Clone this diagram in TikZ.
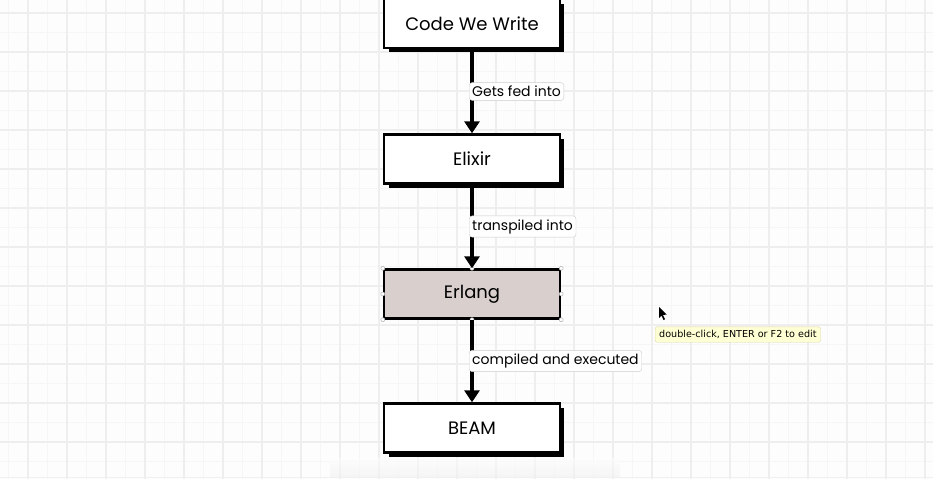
\documentclass[tikz,border=0pt]{standalone}
\usepackage{fontspec}
\setmainfont{Poppins}
\newfontfamily\tipfont{DejaVu Sans}
\usetikzlibrary{arrows.meta}
\definecolor{bg}{HTML}{FDFDFD}
\definecolor{gmaj}{HTML}{EEEEEE}
\definecolor{gmin}{HTML}{F6F6F6}
\definecolor{erl}{HTML}{D9CFCD}
\definecolor{tipfill}{HTML}{FFFFD4}
\definecolor{tipline}{HTML}{D8D8A8}
\tikzset{
  stepbox/.style={draw=black, line width=2.4pt, fill=white, minimum width=176pt, minimum height=49pt, inner sep=0pt, font=\fontsize{18}{21}\selectfont},
  flow/.style={line width=3.6pt, -{Triangle[length=12pt,width=15pt]}},
  lbl/.style={draw=gray!40, fill=white, rounded corners=3pt, inner xsep=3pt, inner ysep=3.5pt, font=\fontsize{14}{16}\selectfont, anchor=west},
  handle/.style={circle, draw=gray!60, fill=white, inner sep=0pt, minimum size=4pt, line width=0.5pt}
}
\begin{document}
\begin{tikzpicture}[x=1pt,y=-1pt]
\fill[bg] (0,0) rectangle (933,479);
\useasboundingbox (0,0) rectangle (933,479);
% grid
\foreach \i in {0,...,48} {
  \draw[gmin, line width=0.8pt] ({8.5+19.5*\i},0) -- ({8.5+19.5*\i},479);
}
\foreach \j in {0,...,25} {
  \draw[gmin, line width=0.8pt] (0,{-6.5+19.5*\j}) -- (933,{-6.5+19.5*\j});
}
\foreach \i in {0,...,24} {
  \draw[gmaj, line width=1.1pt] ({28+39*\i},0) -- ({28+39*\i},479);
}
\foreach \j in {0,...,12} {
  \draw[gmaj, line width=1.1pt] (0,{13+39*\j}) -- (933,{13+39*\j});
}
\shade[top color=bg, bottom color=gray!12, opacity=0.6] (330,458) rectangle (620,477);
\draw[gray!12, line width=1pt] (0,477.5) -- (933,477.5);
% shadows
\fill[black] (389,4) rectangle (564,52);
\fill[black] (389,139) rectangle (564,188);
\fill[black] (389,408) rectangle (564,457);
% boxes
\node[stepbox] (code) at (472,23.5) {Code We Write};
\node[stepbox] (elixir) at (472,159) {Elixir};
\node[stepbox, fill=erl] (erlang) at (472,294) {Erlang};
\node[stepbox] (beam) at (472,428) {BEAM};
% handles
\foreach \a in {north west,north,north east,east,south east,south,south west,west}{
  \node[handle] at (erlang.\a) {};
}
% connectors
\draw[flow] (code.south) -- (elixir.north);
\draw[flow] (elixir.south) -- (erlang.north);
\draw[flow] (erlang.south) -- (beam.north);
% labels
\node[lbl] (l1) at (469,91.5) {Gets fed into};
\node[lbl] (l2) at (469,226.5) {transpiled into};
\node[lbl] (l3) at (469,361) {compiled and executed};
% tooltip and cursor
\node[draw=tipline, fill=tipfill, rounded corners=2pt, inner xsep=4pt, inner ysep=3.5pt, font=\tipfont\fontsize{9.6}{11}\selectfont, anchor=west] (tip) at (655,334.5) {double-click, ENTER or F2 to edit};
\fill[black] (659,307) -- (659,318) -- (661.5,315.5) -- (663.5,320) -- (665,319.3) -- (663,315) -- (666.5,314.5) -- cycle;
\end{tikzpicture}
\end{document}
